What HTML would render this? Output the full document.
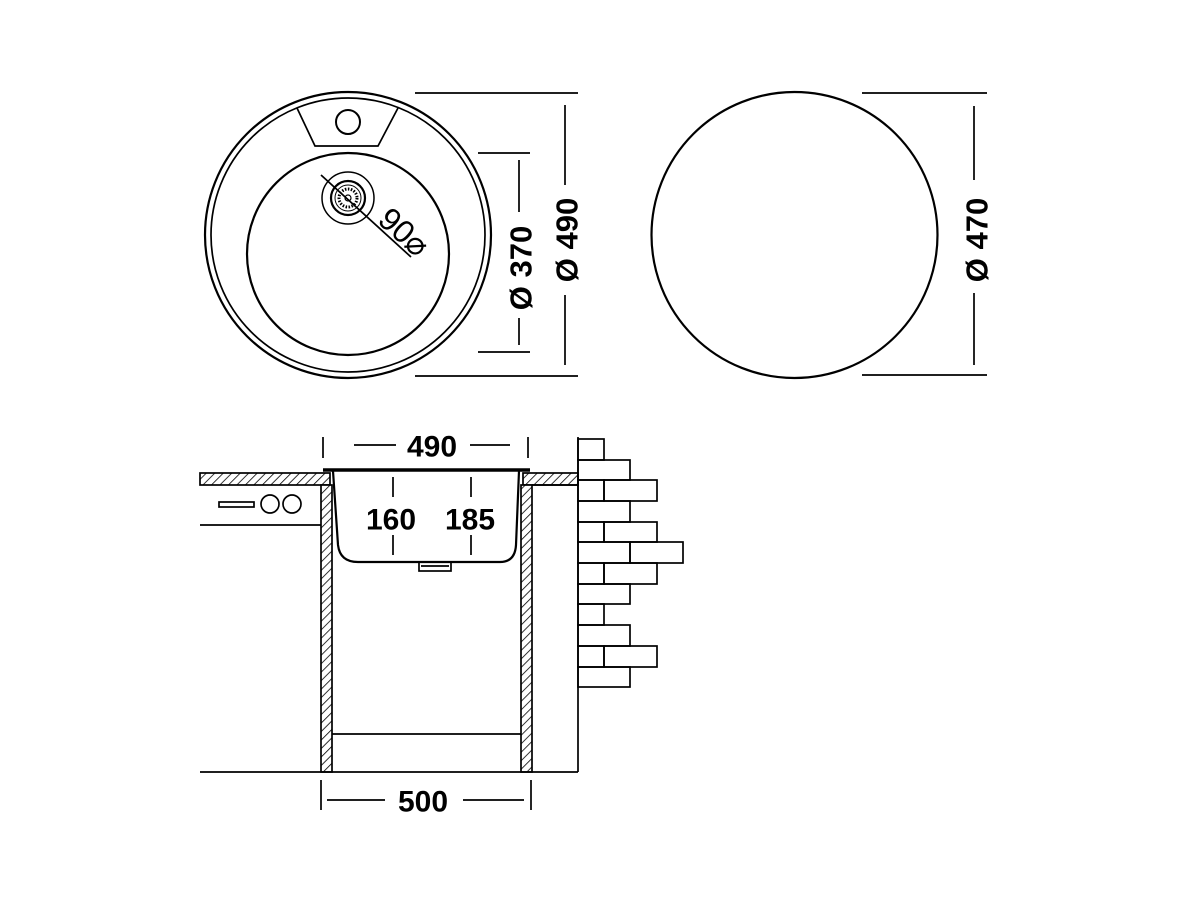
<!DOCTYPE html>
<html><head><meta charset="utf-8"><style>html,body{margin:0;padding:0;background:#fff}svg{display:block}</style></head>
<body>
<svg width="1200" height="900" viewBox="0 0 1200 900" xmlns="http://www.w3.org/2000/svg" font-family="Liberation Sans, Arial, sans-serif">
<defs>
<pattern id="h" width="6" height="6" patternUnits="userSpaceOnUse" patternTransform="rotate(45)">
<rect width="6" height="6" fill="#fff"/><line x1="0" y1="0" x2="0" y2="6" stroke="#000" stroke-width="1.6"/>
</pattern>
</defs>
<g fill="none" stroke="#000" stroke-width="2.2">
<circle cx="348" cy="235" r="143"/>
<circle cx="348" cy="235" r="137" stroke-width="1.7"/>
<circle cx="348" cy="254" r="101"/>
<path d="M297 108 L315 146 L378 146 L398 108" stroke-width="1.7"/>
<circle cx="348" cy="122" r="12" stroke-width="2"/>
<circle cx="348" cy="198" r="26" stroke-width="1.5"/>
<circle cx="348" cy="198" r="17" stroke-width="2.2"/>
<circle cx="348" cy="198" r="13" stroke-width="1"/>
<circle cx="348" cy="198" r="9" stroke-width="3" stroke-dasharray="1.5 1.5"/>
<circle cx="348" cy="198" r="3" stroke-width="1.2"/>
<line x1="321" y1="175" x2="411" y2="257" stroke-width="1.7"/>
<line x1="415" y1="93" x2="578" y2="93" stroke-width="1.7"/>
<line x1="415" y1="376" x2="578" y2="376" stroke-width="1.7"/>
<line x1="478" y1="153" x2="530" y2="153" stroke-width="1.7"/>
<line x1="478" y1="352" x2="530" y2="352" stroke-width="1.7"/>
<line x1="519" y1="160" x2="519" y2="212" stroke-width="1.7"/>
<line x1="519" y1="318" x2="519" y2="345" stroke-width="1.7"/>
<line x1="565" y1="105" x2="565" y2="185" stroke-width="1.7"/>
<line x1="565" y1="295" x2="565" y2="365" stroke-width="1.7"/>
<circle cx="794.5" cy="235" r="143"/>
<line x1="862" y1="93" x2="987" y2="93" stroke-width="1.7"/>
<line x1="862" y1="375" x2="987" y2="375" stroke-width="1.7"/>
<line x1="974" y1="106" x2="974" y2="180" stroke-width="1.7"/>
<line x1="974" y1="293" x2="974" y2="365" stroke-width="1.7"/>
</g>
<g fill="#000">
<text transform="translate(404,232) rotate(42)" font-size="32" text-anchor="middle" dominant-baseline="central">90⌀</text>
<text transform="translate(521,268) rotate(-90)" font-size="31" font-weight="bold" text-anchor="middle" dominant-baseline="central">Ø 370</text>
<text transform="translate(567,240) rotate(-90)" font-size="31" font-weight="bold" text-anchor="middle" dominant-baseline="central">Ø 490</text>
<text transform="translate(977,240) rotate(-90)" font-size="31" font-weight="bold" text-anchor="middle" dominant-baseline="central">Ø 470</text>
</g>
<g stroke="#000" stroke-width="1.7">
<rect x="200" y="473" width="130" height="12" fill="url(#h)"/>
<rect x="523" y="473" width="55" height="12" fill="url(#h)"/>
<rect x="321" y="485" width="11" height="287" fill="url(#h)"/>
<rect x="521" y="485" width="11" height="287" fill="url(#h)"/>
</g>
<g fill="none" stroke="#000" stroke-width="1.7">
<line x1="200" y1="772" x2="578" y2="772"/>
<line x1="332" y1="734" x2="521" y2="734"/>
<line x1="200" y1="525" x2="321" y2="525"/>
<line x1="532" y1="485" x2="578" y2="485"/>
<rect x="219" y="502" width="35" height="5"/>
<circle cx="270" cy="504" r="9"/>
<circle cx="292" cy="504" r="9"/>
<line x1="323" y1="470" x2="530" y2="470" stroke-width="3.5"/>
<path d="M333 471 L338 545 Q340 562 358 562 L500 562 Q515 562 516 545 L519 471" stroke-width="2.2"/>
<rect x="419" y="562" width="32" height="9"/>
<line x1="421" y1="566" x2="449" y2="566"/>
<line x1="323" y1="437" x2="323" y2="458"/>
<line x1="528" y1="437" x2="528" y2="458"/>
<line x1="354" y1="445" x2="396" y2="445"/>
<line x1="470" y1="445" x2="510" y2="445"/>
<line x1="393" y1="477" x2="393" y2="497"/>
<line x1="393" y1="535" x2="393" y2="555"/>
<line x1="471" y1="477" x2="471" y2="497"/>
<line x1="471" y1="535" x2="471" y2="555"/>
<line x1="321" y1="780" x2="321" y2="810"/>
<line x1="531" y1="780" x2="531" y2="810"/>
<line x1="327" y1="800" x2="385" y2="800"/>
<line x1="463" y1="800" x2="524" y2="800"/>
<line x1="578" y1="437" x2="578" y2="772"/>
<rect x="578" y="439" width="26" height="21"/>
<rect x="578" y="460" width="52" height="20"/>
<rect x="578" y="480" width="26" height="21"/><rect x="604" y="480" width="53" height="21"/>
<rect x="578" y="501" width="52" height="21"/>
<rect x="578" y="522" width="26" height="20"/><rect x="604" y="522" width="53" height="20"/>
<rect x="578" y="542" width="52" height="21"/><rect x="630" y="542" width="53" height="21"/>
<rect x="578" y="563" width="26" height="21"/><rect x="604" y="563" width="53" height="21"/>
<rect x="578" y="584" width="52" height="20"/>
<rect x="578" y="604" width="26" height="21"/>
<rect x="578" y="625" width="52" height="21"/>
<rect x="578" y="646" width="26" height="21"/><rect x="604" y="646" width="53" height="21"/>
<rect x="578" y="667" width="52" height="20"/>
</g>
<g fill="#000" font-size="30" font-weight="bold" text-anchor="middle" dominant-baseline="central">
<text x="432" y="447">490</text>
<text x="391" y="520">160</text>
<text x="470" y="520">185</text>
<text x="423" y="802">500</text>
</g>
</svg>
</body></html>
